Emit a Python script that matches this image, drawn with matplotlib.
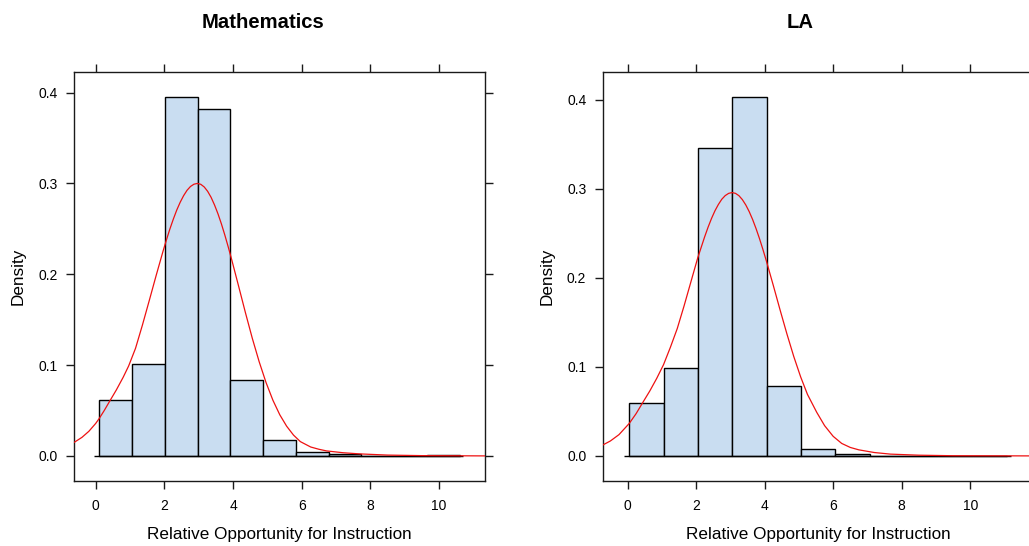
import numpy as np
import matplotlib
matplotlib.use("Agg")
import matplotlib.pyplot as plt

plt.rcParams['font.family'] = ['Liberation Sans', 'DejaVu Sans']

# ---------------------------
# Data
# ---------------------------
math_lo, math_hi = 0.104, 10.6
math_dens = [0.061, 0.1013, 0.3947, 0.382, 0.0837, 0.018, 0.0039, 0.0018, 0.0004, 0.0003, 0.0009]
math_curve_x = [-0.63, -0.4, -0.2, 0.0, 0.1, 0.25, 0.42, 0.6, 0.8, 0.96, 1.16, 1.36, 1.56, 1.76, 1.96,
                2.06, 2.16, 2.26, 2.36, 2.46, 2.56, 2.66, 2.76, 2.86, 2.96, 3.06, 3.16, 3.26, 3.36,
                3.46, 3.56, 3.66, 3.76, 3.86, 3.96, 4.16, 4.36, 4.56, 4.76, 4.96, 5.16, 5.36, 5.56,
                5.76, 5.96, 6.26, 6.5, 6.72, 7.2, 7.69, 8.5, 9.5, 11.34]
math_curve_y = [0.0148, 0.0204, 0.027, 0.0357, 0.041, 0.050, 0.061, 0.0725, 0.0865, 0.099, 0.1184,
                0.1439, 0.171, 0.1985, 0.2252, 0.2378, 0.2497, 0.2606, 0.2706, 0.2792, 0.2865, 0.2924,
                0.2966, 0.2991, 0.300, 0.299, 0.2961, 0.2913, 0.2847, 0.2763, 0.2666, 0.2555, 0.2432,
                0.230, 0.2161, 0.1871, 0.1577, 0.1295, 0.1037, 0.0808, 0.0613, 0.0453, 0.0327, 0.0229,
                0.0157, 0.0098, 0.0073, 0.0055, 0.0035, 0.0022, 0.0009, 0.0003, 0.0]

la_lo, la_hi = 0.047, 11.08
la_dens = [0.0591, 0.0987, 0.3464, 0.4027, 0.079, 0.0074, 0.002, 0.0003, 0.0002, 0.0002, 0.0003]
la_curve_x = [-0.73, -0.5, -0.25, 0.05, 0.25, 0.44, 0.65, 0.85, 1.05, 1.25, 1.45, 1.65, 1.85, 2.05,
              2.15, 2.25, 2.35, 2.45, 2.55, 2.65, 2.75, 2.85, 2.95, 3.05, 3.15, 3.25, 3.35, 3.45,
              3.55, 3.65, 3.75, 3.85, 3.95, 4.05, 4.25, 4.45, 4.65, 4.85, 5.05, 5.25, 5.52, 5.75,
              6.0, 6.25, 6.5, 6.75, 7.2, 7.67, 8.5, 9.5, 11.86]
la_curve_y = [0.0121, 0.0168, 0.0239, 0.0365, 0.0475, 0.0597, 0.073, 0.087, 0.1025, 0.122, 0.143,
              0.1686, 0.1957, 0.2227, 0.2344, 0.2461, 0.2569, 0.2667, 0.2753, 0.2824, 0.2883, 0.2924,
              0.2949, 0.2958, 0.2949, 0.2923, 0.2879, 0.2819, 0.2744, 0.2655, 0.2553, 0.2441, 0.2319,
              0.2191, 0.1919, 0.1641, 0.1371, 0.1117, 0.0889, 0.0691, 0.049, 0.034, 0.022, 0.014,
              0.0095, 0.0068, 0.0038, 0.002, 0.0008, 0.0002, 0.0]

titles = ["Mathematics", "LA"]
xlabel = "Relative Opportunity for Instruction"
ylabel = "Density"
xticks = [0, 2, 4, 6, 8, 10]
yticks = [0.0, 0.1, 0.2, 0.3, 0.4]

# ---------------------------
# Figure
# ---------------------------
W, H = 1029, 546
fig = plt.figure(figsize=(W / 100, H / 100), dpi=100)

bar_col = '#c9ddf1'
line_col = '#1a1a1a'


def painel(rect, lo, hi, dens, cx, cy, titulo, title_x):
    ax = fig.add_axes(rect)
    edges = np.linspace(lo, hi, len(dens) + 1)
    ax.bar(edges[:-1], dens, width=np.diff(edges), align='edge',
           color=bar_col, edgecolor='black', linewidth=1.0, zorder=2)
    ax.hlines(0, edges[0] - 0.15, edges[-1] + 0.1, color='black', linewidth=1.0, zorder=2.5)
    ax.plot(cx, cy, color='#ee1111', linewidth=0.9, zorder=3)

    # lattice-like padding of 7%
    r = hi - lo
    ax.set_xlim(lo - 0.07 * r, hi + 0.07 * r)
    ym = max(dens)
    ax.set_ylim(-0.07 * ym, 1.07 * ym)

    ax.set_xticks(xticks)
    ax.set_xticklabels([str(t) for t in xticks])
    ax.set_yticks(yticks)
    ax.set_yticklabels([f"{t:.1f}" for t in yticks])
    ax.tick_params(axis='both', direction='out', length=5.8, width=1.0, color=line_col,
                   labelsize=10, top=True, right=True, labeltop=False, labelright=False)
    ax.tick_params(axis='x', pad=7.5)
    ax.tick_params(axis='y', pad=6)
    for s in ax.spines.values():
        s.set_color(line_col)
        s.set_linewidth(1.0)

    ax.set_xlabel(xlabel, fontsize=12.3, labelpad=10)
    ax.set_ylabel(ylabel, fontsize=12.3, labelpad=9)
    fig.text(title_x / W, 1 - 22 / H, titulo, ha='center', va='center',
             fontsize=14.6, fontweight='bold')
    return ax


ax1 = painel([74 / W, 1 - 481 / H, 411 / W, (481 - 72.3) / H],
             math_lo, math_hi, math_dens, math_curve_x, math_curve_y, titles[0], 263.3)
ax2 = painel([602.7 / W, 1 - 481 / H, 431 / W, (481 - 72.3) / H],
             la_lo, la_hi, la_dens, la_curve_x, la_curve_y, titles[1], 800)

fig.savefig("out.png", dpi=100)
